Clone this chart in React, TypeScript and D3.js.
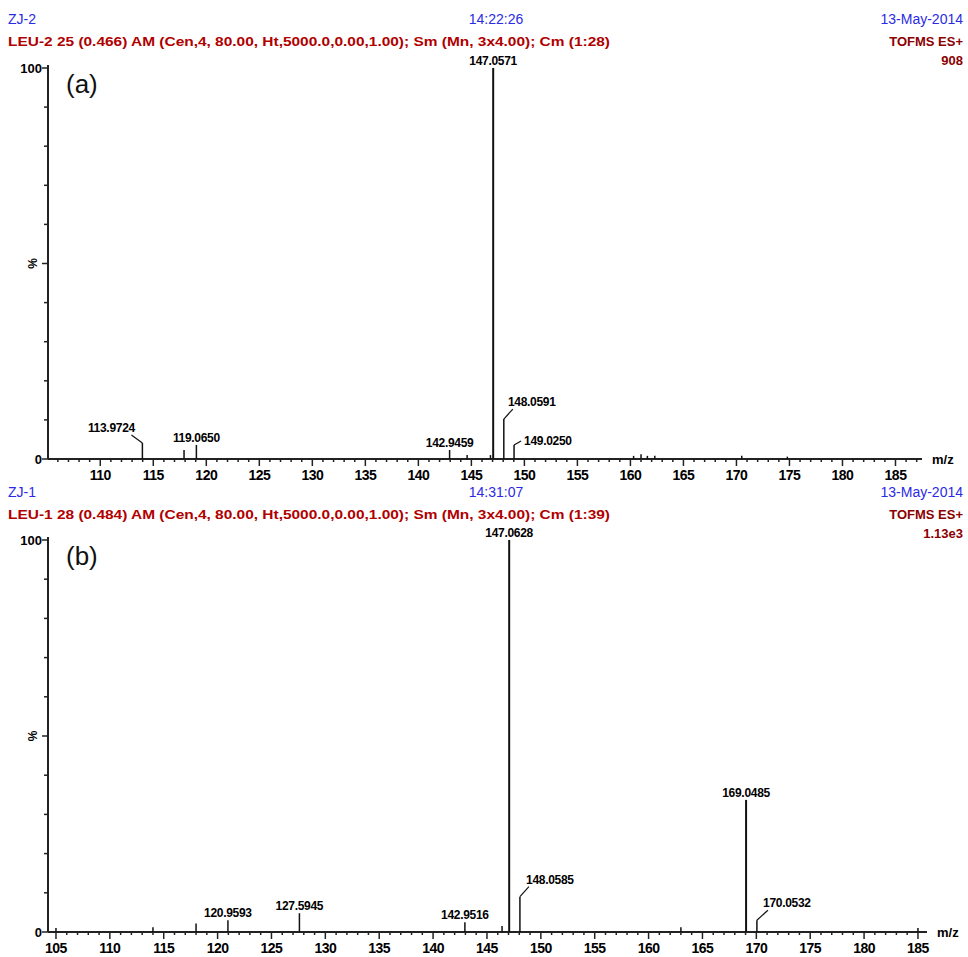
import React from 'react';
import * as d3 from 'd3';

// panel (a) ZJ-2
const mzA = [113.9724, 117.9, 119.065, 142.9459, 144.6, 146.8, 147.0571, 148.0591, 149.025, 160.3, 161.0, 161.6, 162.3, 170.5, 174.8];
const intA = [4.1, 2.3, 3.6, 2.3, 1.0, 1.0, 100, 10.2, 3.6, 0.8, 1.2, 0.8, 0.8, 0.8, 0.6];
const labA = ['113.9724', '', '119.0650', '142.9459', '', '', '147.0571', '148.0591', '149.0250', '', '', '', '', '', ''];

// panel (b) ZJ-1
const mzB = [105.0, 114.0, 118.0, 120.9593, 127.5945, 142.9516, 146.4, 147.0628, 148.0585, 163.0, 169.0485, 170.0532, 185.0];
const intB = [1.0, 1.2, 2.2, 3.0, 4.8, 2.5, 1.5, 100, 9.0, 1.2, 33.7, 3.0, 1.0];
const labB = ['', '', '', '120.9593', '127.5945', '142.9516', '', '147.0628', '148.0585', '', '169.0485', '170.0532', ''];

const ticksA = d3.range(110, 186, 5);
const ticksB = d3.range(105, 186, 5);

// leader lines: [dx, dy, label dx, label anchor] from peak top (layout only)
type Leader = [number, number, number, 'start' | 'middle' | 'end'];
const leaderA: Record<string, Leader> = {
  '113.9724': [-11, -8, -20, 'middle'],
  '148.0591': [9, -10, 19, 'middle'],
  '149.0250': [7, -4, 3, 'start'],
};
const leaderB: Record<string, Leader> = {
  '148.0585': [9, -10, 21, 'middle'],
  '170.0532': [11, -10, 19, 'middle'],
};

const BLUE = '#2b2be6';
const RED = '#b00000';
const DARK = '#222';
const FONT = '"Liberation Sans", Arial, sans-serif';

type PanelProps = {
  top: number;
  name: string;
  time: string;
  info: string;
  scale: string;
  tag: string;
  domain: [number, number];
  xRange: [number, number];
  y0: number;
  y100: number;
  mz: number[];
  inten: number[];
  labels: string[];
  ticks: number[];
  leaders: Record<string, Leader>;
};

const Panel = (p: PanelProps) => {
  const x = d3.scaleLinear().domain(p.domain).range(p.xRange);
  const y = d3.scaleLinear().domain([0, 100]).range([p.y0, p.y100]);
  const minor = d3.range(Math.ceil(p.domain[0]), Math.floor(p.domain[1]) + 1);
  const yTicks = d3.range(0, 101, 10);
  const axisX = p.xRange[0];

  return (
    <g>
      <text x={8} y={p.top} fill={BLUE} fontSize={14} fontFamily={FONT}>{p.name}</text>
      <text x={496} y={p.top} fill={BLUE} fontSize={14} fontFamily={FONT} textAnchor="middle">{p.time}</text>
      <text x={963} y={p.top} fill={BLUE} fontSize={14} fontFamily={FONT} textAnchor="end">13-May-2014</text>
      <text x={8} y={p.top + 22} fill={RED} fontSize={13} fontWeight="bold" fontFamily={FONT}
        textLength={602} lengthAdjust="spacingAndGlyphs">{p.info}</text>
      <text x={963} y={p.top + 22} fill="#8b0000" fontSize={13} fontWeight="bold" fontFamily={FONT} textAnchor="end">TOFMS ES+</text>
      <text x={963} y={p.top + 41} fill="#8b0000" fontSize={13} fontWeight="bold" fontFamily={FONT} textAnchor="end">{p.scale}</text>

      <text x={66} y={y(100) + 25} fontSize={26} fontFamily={FONT} fill="#111">{p.tag}</text>

      {/* y axis */}
      <line x1={axisX} x2={axisX} y1={y(100) - 3} y2={p.y0} stroke={DARK} strokeWidth={2} />
      {yTicks.map(t => (
        <line key={t} x1={axisX - (t % 50 === 0 ? 6 : 4)} x2={axisX} y1={y(t)} y2={y(t)} stroke={DARK} strokeWidth={1.5} />
      ))}
      <text x={axisX - 6} y={y(100) + 5} fontSize={13} fontWeight="bold" fontFamily={FONT} textAnchor="end">100</text>
      <text x={axisX - 6} y={p.y0 + 5} fontSize={13} fontWeight="bold" fontFamily={FONT} textAnchor="end">0</text>
      <text transform={`translate(${axisX - 10},${y(50)}) rotate(-90)`} fontSize={12} fontWeight="bold"
        fontFamily={FONT} textAnchor="middle" dy={-1}>%</text>

      {/* x axis */}
      <line x1={axisX} x2={p.xRange[1]} y1={p.y0} y2={p.y0} stroke={DARK} strokeWidth={2} />
      {minor.map(t => (
        <line key={t} x1={x(t)} x2={x(t)} y1={p.y0}
          y2={p.y0 + (t % 5 === 0 ? 7 : 3)} stroke={DARK} strokeWidth={1.5} />
      ))}
      {p.ticks.map(t => (
        <text key={t} x={x(t)} y={p.y0 + 21} fontSize={14} fontWeight="bold" fontFamily={FONT}
          textAnchor="middle" letterSpacing={-0.5}>{t}</text>
      ))}
      <text x={p.xRange[1] + 10} y={p.y0 + 5} fontSize={13} fontWeight="bold" fontFamily={FONT}>m/z</text>

      {/* peaks */}
      {p.mz.map((m, i) => {
        const px = x(m);
        const py = y(p.inten[i]);
        const lab = p.labels[i];
        const ld = lab ? p.leaders[lab] : undefined;
        const lx = ld ? px + ld[0] : px;
        const ly = ld ? py + ld[1] : py;
        return (
          <g key={i}>
            <line x1={px} x2={px} y1={p.y0} y2={py} stroke="#111" strokeWidth={p.inten[i] > 20 ? 2 : 1.5} />
            {ld && <line x1={px} y1={py} x2={lx} y2={ly} stroke="#111" strokeWidth={1.2} />}
            {lab && (
              <text x={ld ? lx + ld[2] : lx} y={ld && ld[3] === 'start' ? ly + 4 : ly - 3} fontSize={12} fontWeight="bold"
                fontFamily={FONT} textAnchor={ld ? ld[3] : 'middle'} letterSpacing={-0.3}>{lab}</text>
            )}
          </g>
        );
      })}
    </g>
  );
};

export default function App() {
  return (
    <svg width={968} height={957} style={{ display: 'block', position: 'absolute', left: 0, top: 0, background: '#fff' }}>
      <rect width={968} height={957} fill="#fff" />
      <Panel top={24} name="ZJ-2" time="14:22:26"
        info="LEU-2 25 (0.466) AM (Cen,4, 80.00, Ht,5000.0,0.00,1.00); Sm (Mn, 3x4.00); Cm (1:28)"
        scale="908" tag="(a)" domain={[105.07, 187.5]} xRange={[48, 922]} y0={459} y100={68}
        mz={mzA} inten={intA} labels={labA} ticks={ticksA} leaders={leaderA} />
      <Panel top={497} name="ZJ-1" time="14:31:07"
        info="LEU-1 28 (0.484) AM (Cen,4, 80.00, Ht,5000.0,0.00,1.00); Sm (Mn, 3x4.00); Cm (1:39)"
        scale="1.13e3" tag="(b)" domain={[104.26, 185.84]} xRange={[48, 927]} y0={932} y100={540}
        mz={mzB} inten={intB} labels={labB} ticks={ticksB} leaders={leaderB} />
    </svg>
  );
}
